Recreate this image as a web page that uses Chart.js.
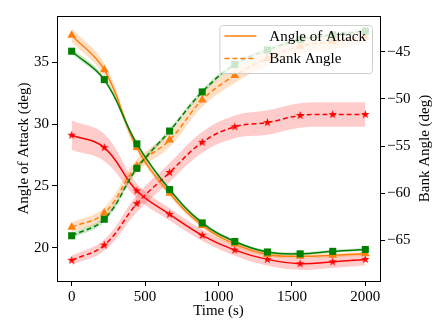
<!DOCTYPE html>
<html>
<head>
<meta charset="utf-8">
<script src="https://cdn.jsdelivr.net/npm/chart.js@4/dist/chart.umd.min.js"></script>
<style>
html, body { margin: 0; padding: 0; background: #fff; }
</style>
</head>
<body>
<canvas id="myChart" width="448" height="336"></canvas>
<script>
var times = [0, 222, 444, 667, 889, 1111, 1333, 1556, 1778, 2000];
var xTicks = [0, 500, 1000, 1500, 2000];
var aoaTicks = [20, 25, 30, 35];
var bankTicks = [-65, -60, -55, -50, -45];
var legendLabels = ['Angle of Attack', 'Bank Angle'];

// angle of attack (deg), left axis
var aoaOrange = [37.2, 34.4, 28.1, 24.4, 21.8, 20.3, 19.45, 19.3, 19.38, 19.5];
var aoaGreen = [35.9, 33.6, 28.4, 24.7, 22.0, 20.5, 19.65, 19.5, 19.7, 19.85];
var aoaRed = [29.1, 28.1, 24.6, 22.7, 21.0, 19.8, 19.05, 18.7, 18.85, 19.05];
var aoaOrangeStd = [0.55, 0.5, 0.3, 0.25, 0.2, 0.2, 0.15, 0.15, 0.15, 0.15];
var aoaGreenStd = [0.25, 0.2, 0.15, 0.15, 0.15, 0.12, 0.12, 0.12, 0.12, 0.12];
var aoaRedStd = [1.2, 1.1, 0.6, 0.5, 0.45, 0.45, 0.5, 0.5, 0.5, 0.5];

// bank angle (deg), right axis
var bankOrange = [-63.6, -62.1, -57.1, -54.35, -50.1, -47.5, -45.7, -44.4, -43.9, -43.4];
var bankGreen = [-64.5, -62.75, -57.35, -53.4, -49.25, -46.35, -44.8, -43.7, -43.2, -42.8];
var bankRed = [-67.1, -65.5, -61.1, -57.8, -54.6, -52.95, -52.5, -51.75, -51.65, -51.65];
var bankOrangeStd = [0.5, 0.6, 0.7, 0.75, 0.75, 0.8, 0.8, 0.8, 0.8, 0.8];
var bankGreenStd = [0.3, 0.3, 0.25, 0.25, 0.25, 0.25, 0.25, 0.25, 0.25, 0.25];
var bankRedStd = [0.5, 0.6, 0.9, 1.0, 1.1, 1.2, 1.3, 1.3, 1.3, 1.3];

var ORANGE = '#ff7f0e', GREEN = '#008000', RED = '#ff0000';
var FONT = "'Liberation Serif', 'DejaVu Serif', serif";

function pts(arr) {
	return times.map(function (t, i) { return {x: t, y: arr[i]}; });
}
function shift(arr, std, sign) {
	return arr.map(function (v, i) { return v + sign * std[i]; });
}

// filled star marker, like matplotlib '*'
function starImage(color, r) {
	var c = document.createElement('canvas');
	var s = Math.ceil(r * 2) + 2;
	c.width = s; c.height = s;
	var g = c.getContext('2d');
	g.fillStyle = color;
	g.beginPath();
	for (var i = 0; i < 10; i++) {
		var rad = i % 2 ? r * 0.4 : r;
		var a = -Math.PI / 2 + i * Math.PI / 5;
		g.lineTo(s / 2 + rad * Math.cos(a), s / 2 + rad * Math.sin(a));
	}
	g.closePath();
	g.fill();
	return c;
}

function line(arr, color, dashed, marker, radius, axis) {
	return {
		data: pts(arr),
		yAxisID: axis,
		borderColor: color,
		backgroundColor: color,
		borderWidth: 1.5,
		borderDash: dashed ? [5, 3] : [],
		pointStyle: marker,
		pointRadius: radius,
		pointBackgroundColor: color,
		pointBorderColor: color,
		pointBorderWidth: 0,
		tension: 0.4,
		fill: false,
		order: 0
	};
}
function band(arr, std, color, axis) {
	return [{
		data: pts(shift(arr, std, -1)),
		yAxisID: axis, borderWidth: 0, pointRadius: 0, tension: 0.4, fill: false, order: 2
	}, {
		data: pts(shift(arr, std, 1)),
		yAxisID: axis, borderWidth: 0, pointRadius: 0, tension: 0.4,
		fill: '-1', backgroundColor: color, order: 2
	}];
}

var datasets = [
	line(aoaGreen, GREEN, false, 'rect', 5, 'y'),
	line(bankGreen, GREEN, true, 'rect', 5, 'y1'),
	line(aoaOrange, ORANGE, false, 'triangle', 5, 'y'),
	line(bankOrange, ORANGE, true, 'triangle', 5, 'y1'),
	line(aoaRed, RED, false, starImage(RED, 4.5), 5, 'y'),
	line(bankRed, RED, true, starImage(RED, 4.5), 5, 'y1')
].concat(
	band(aoaGreen, aoaGreenStd, 'rgba(0,128,0,0.2)', 'y'),
	band(bankGreen, bankGreenStd, 'rgba(0,128,0,0.2)', 'y1'),
	band(aoaOrange, aoaOrangeStd, 'rgba(255,127,14,0.25)', 'y'),
	band(bankOrange, bankOrangeStd, 'rgba(255,127,14,0.25)', 'y1'),
	band(aoaRed, aoaRedStd, 'rgba(255,0,0,0.2)', 'y'),
	band(bankRed, bankRedStd, 'rgba(255,0,0,0.2)', 'y1')
);

function fixedTicks(list) {
	return function (scale) { scale.ticks = list.map(function (v) { return {value: v}; }); };
}
function plain(v) { return String(v).replace('-', '\u2212'); }

var tickFont = {family: FONT, size: 15};
var gridOpts = {drawOnChartArea: false, drawTicks: true, tickLength: 5, color: '#000'};
var borderOpts = {display: true, color: '#000', width: 1};

var framePlugin = {
	id: 'frame',
	afterDatasetsDraw: function (chart) {
		var ctx = chart.ctx, a = chart.chartArea;
		ctx.save();
		ctx.strokeStyle = '#000';
		ctx.lineWidth = 1;
		ctx.beginPath();
		ctx.moveTo(a.left, a.top + 0.5);
		ctx.lineTo(a.right, a.top + 0.5);
		ctx.stroke();

		// legend box, top right inside the plot
		ctx.font = '15px ' + FONT;
		var textW = Math.max.apply(null, legendLabels.map(function (t) { return ctx.measureText(t).width; }));
		var w = 50 + textW + 6, h = 48;
		var x = a.right - 8 - w, y = a.top + 9;
		ctx.beginPath();
		ctx.roundRect(x + 0.5, y + 0.5, w, h, 3);
		ctx.fillStyle = 'rgba(255,255,255,0.8)';
		ctx.fill();
		ctx.strokeStyle = '#d0d0d0';
		ctx.stroke();
		legendLabels.forEach(function (t, i) {
			var ly = y + 11 + i * 22.5;
			ctx.strokeStyle = ORANGE;
			ctx.lineWidth = 1.5;
			ctx.setLineDash(i === 1 ? [5, 3] : []);
			ctx.beginPath();
			ctx.moveTo(x + 5, ly);
			ctx.lineTo(x + 37, ly);
			ctx.stroke();
			ctx.setLineDash([]);
			ctx.fillStyle = '#000';
			ctx.textBaseline = 'middle';
			ctx.textAlign = 'left';
			ctx.fillText(t, x + 50, ly + 1);
		});

		// right axis title, reads bottom to top as in matplotlib
		ctx.save();
		ctx.translate(425, (a.top + a.bottom) / 2);
		ctx.rotate(-Math.PI / 2);
		ctx.textAlign = 'center';
		ctx.textBaseline = 'middle';
		ctx.fillStyle = '#000';
		ctx.fillText('Bank Angle (deg)', 0, 0);
		ctx.restore();
		ctx.restore();
	}
};

new Chart(document.getElementById('myChart'), {
	type: 'line',
	data: {datasets: datasets},
	plugins: [framePlugin],
	options: {
		responsive: false,
		animation: false,
		devicePixelRatio: 1,
		layout: {padding: {top: 16, left: 0, right: 0, bottom: 0}},
		plugins: {legend: {display: false}, tooltip: {enabled: false}},
		scales: {
			x: {
				type: 'linear', position: 'bottom', min: -100, max: 2100,
				afterBuildTicks: fixedTicks(xTicks),
				afterFit: function (s) { s.height = 55; },
				ticks: {font: tickFont, color: '#000', padding: 2, maxRotation: 0, callback: plain},
				grid: gridOpts, border: borderOpts,
				title: {display: true, text: 'Time (s)', font: tickFont, color: '#000', padding: {top: 0, bottom: 16}}
			},
			y: {
				type: 'linear', position: 'left', min: 17.3, max: 38.75,
				afterBuildTicks: fixedTicks(aoaTicks),
				afterFit: function (s) { s.width = 57; },
				ticks: {font: tickFont, color: '#000', padding: 3, callback: plain},
				grid: gridOpts, border: borderOpts,
				title: {display: true, text: 'Angle of Attack (deg)', font: tickFont, color: '#000', padding: {top: 15, bottom: 0}}
			},
			y1: {
				type: 'linear', position: 'right', min: -69.3, max: -41.2,
				afterBuildTicks: fixedTicks(bankTicks),
				afterFit: function (s) { s.width = 68; },
				ticks: {font: tickFont, color: '#000', padding: 2, callback: plain},
				grid: gridOpts, border: borderOpts
			}
		}
	}
});
</script>
</body>
</html>
